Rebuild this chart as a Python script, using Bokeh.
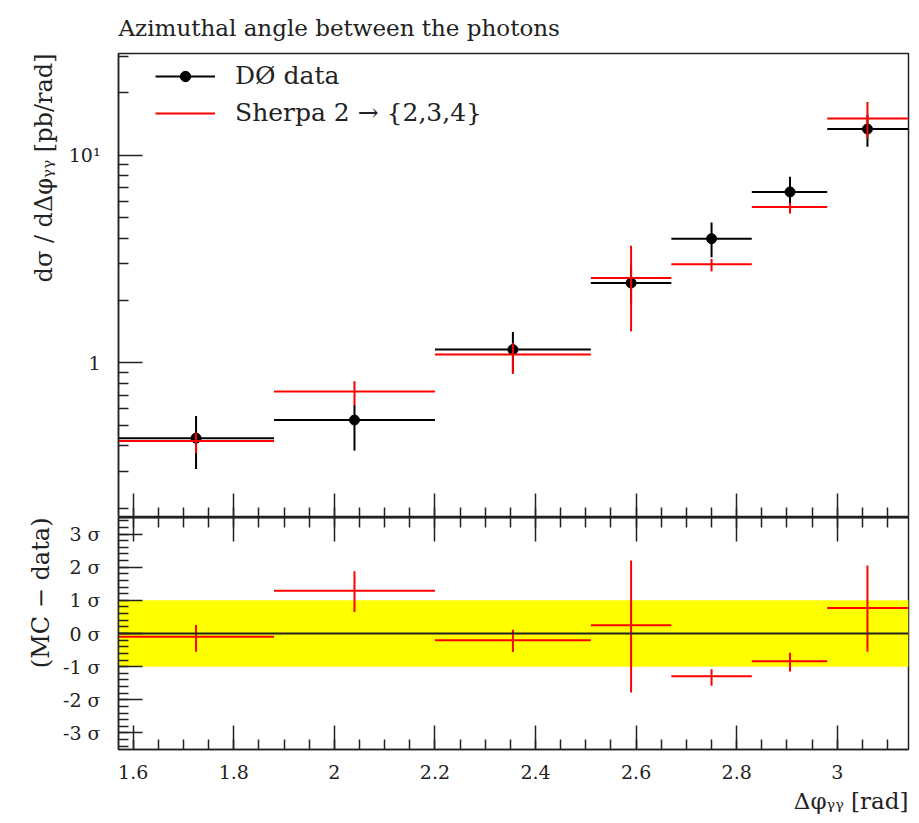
import numpy as np
from bokeh.plotting import figure
from bokeh.models import (FixedTicker, Range1d, BoxAnnotation, Span, Legend,
                          LegendItem, ColumnDataSource, LinearAxis, Title)
from bokeh.layouts import column
from bokeh.embed import file_html
from bokeh.resources import INLINE

# ---------------- data ----------------
bin_edges = [np.pi / 2, 1.88, 2.20, 2.51, 2.67, 2.83, 2.98, np.pi]
bin_centers = [1.725, 2.04, 2.355, 2.59, 2.75, 2.906, 3.06]

data_val = [0.434, 0.531, 1.16, 2.43, 3.97, 6.67, 13.4]
data_low = [0.308, 0.378, 0.889, 1.90, 3.23, 5.69, 11.0]
data_high = [0.555, 0.627, 1.41, 2.95, 4.75, 7.89, 15.7]

mc_val = [0.421, 0.729, 1.10, 2.57, 2.99, 5.65, 15.06]
mc_low = [0.367, 0.627, 0.889, 1.42, 2.76, 5.25, 12.1]
mc_high = [0.461, 0.817, 1.25, 3.67, 3.17, 5.92, 18.1]

dev_val = [-0.10, 1.29, -0.20, 0.25, -1.29, -0.84, 0.77]
dev_low = [-0.55, 0.65, -0.56, -1.78, -1.58, -1.15, -0.55]
dev_high = [0.26, 1.88, 0.11, 2.20, -1.08, -0.58, 2.05]

band = [-1.0, 1.0]

x_major = [1.6, 1.8, 2.0, 2.2, 2.4, 2.6, 2.8, 3.0]
x_minor = [round(1.6 + 0.05 * i, 2) for i in range(-1, 32)]
y_major = [1, 10]
y_minor = [0.2, 0.3, 0.4, 0.5, 0.6, 0.7, 0.8, 0.9, 2, 3, 4, 5, 6, 7, 8, 9, 20, 30]
y_labels = {1: "1", 10: "10\u00b9"}
r_major = [-3, -2, -1, 0, 1, 2, 3]
r_minor = [round(-3.4 + 0.2 * i, 1) for i in range(35)]
r_labels = {-3: "-3 \u03c3", -2: "-2 \u03c3", -1: "-1 \u03c3", 0: "0 \u03c3",
            1: "1 \u03c3", 2: "2 \u03c3", 3: "3 \u03c3"}

title_text = "Azimuthal angle between the photons"
y_title = "d\u03c3 / d\u0394\u03c6\u1d67\u1d67 [pb/rad]"
r_title = "(MC \u2212 data)"
x_title = "\u0394\u03c6\u1d67\u1d67 [rad]"

FONT = "DejaVu Serif"
TXT = "#222222"
LINE = "#222222"

src = ColumnDataSource(dict(
    x0=bin_edges[:-1], x1=bin_edges[1:], xc=bin_centers,
    dv=data_val, dl=data_low, dh=data_high,
    mv=mc_val, ml=mc_low, mh=mc_high,
    rv=dev_val, rl=dev_low, rh=dev_high,
))

x_range = Range1d(np.pi / 2, np.pi)


def style_common(ax):
    ax.major_tick_out = 0
    ax.minor_tick_out = 0
    ax.axis_line_width = 1.5
    ax.major_tick_line_width = 1.5
    ax.minor_tick_line_width = 1.5
    ax.axis_line_color = LINE
    ax.major_tick_line_color = LINE
    ax.minor_tick_line_color = LINE
    ax.major_label_text_font = FONT
    ax.major_label_text_color = TXT
    ax.major_label_text_font_size = "19px"
    ax.major_label_standoff = 18


def style_axis(ax, major_ticks, minor_ticks, overrides=None):
    style_common(ax)
    ax.ticker = FixedTicker(ticks=major_ticks, minor_ticks=minor_ticks)
    ax.major_tick_in = 24
    ax.minor_tick_in = 10
    if overrides:
        ax.major_label_overrides = overrides


def tick_only_axes(fig, place, major_ticks, minor_ticks):
    # unlabeled inner ticks: two label-free axes (long + short ticks)
    for ticks, length in ((major_ticks, 24), (minor_ticks, 10)):
        ax = LinearAxis(ticker=FixedTicker(ticks=[], minor_ticks=ticks))
        style_common(ax)
        ax.major_tick_in = 0
        ax.minor_tick_in = length
        ax.major_label_standoff = 0
        fig.add_layout(ax, place)


def side_title(fig, text, place, align, standoff, size="23px"):
    t = Title(text=text, align=align, text_font=FONT, text_font_size=size,
              text_font_style="normal", text_color=TXT, standoff=standoff)
    fig.add_layout(t, place)
    return t


# ---------------- upper panel ----------------
p1 = figure(width=919, height=517, x_range=x_range, y_range=Range1d(0.18, 31),
            y_axis_type="log", x_axis_location=None,
            output_backend="svg", toolbar_location=None,
            min_border_left=118, min_border_right=11, min_border_top=53,
            min_border_bottom=0)
p1.grid.visible = False
p1.outline_line_color = LINE
p1.outline_line_width = 1.5
p1.title.text = title_text
p1.title.text_font = FONT
p1.title.text_font_size = "23px"
p1.title.text_font_style = "normal"
p1.title.text_color = TXT
p1.title.align = "left"
p1.title.standoff = 25

tick_only_axes(p1, "below", x_major, x_minor)
style_axis(p1.yaxis[0], y_major, y_minor, overrides=y_labels)
side_title(p1, y_title, "left", "right", 16, size="24px")

r_dh = p1.segment(x0="x0", x1="x1", y0="dv", y1="dv", source=src,
                  line_color="black", line_width=2)
p1.segment(x0="xc", x1="xc", y0="dl", y1="dh", source=src,
           line_color="black", line_width=2)
r_dp = p1.scatter(x="xc", y="dv", source=src, size=10, fill_color="black",
                  line_color="black")
r_mh = p1.segment(x0="x0", x1="x1", y0="mv", y1="mv", source=src,
                  line_color="red", line_width=2)
p1.segment(x0="xc", x1="xc", y0="ml", y1="mh", source=src,
           line_color="red", line_width=2)

legend = Legend(items=[
    LegendItem(label="D\u00d8 data", renderers=[r_dh, r_dp]),
    LegendItem(label="Sherpa 2 \u2192 {2,3,4}", renderers=[r_mh]),
])
legend.margin = 0
legend.padding = 0
legend.location = (37, 390)
legend.glyph_width = 60
legend.glyph_height = 26
legend.label_height = 26
legend.spacing = 8
legend.label_standoff = 20
legend.label_text_font = FONT
legend.label_text_font_size = "25px"
legend.label_text_color = TXT
legend.border_line_alpha = 0
legend.background_fill_alpha = 0
p1.add_layout(legend, "center")

# ---------------- lower panel ----------------
p2 = figure(width=919, height=306, x_range=x_range, y_range=Range1d(-3.5, 3.5),
            output_backend="svg", toolbar_location=None,
            min_border_left=118, min_border_right=11, min_border_top=0,
            min_border_bottom=74)
p2.grid.visible = False
p2.outline_line_color = LINE
p2.outline_line_width = 1.5

p2.add_layout(BoxAnnotation(bottom=band[0], top=band[1], fill_color="#ffff00",
                            fill_alpha=1.0, line_alpha=0, level="underlay"))
p2.add_layout(Span(location=0, dimension="width", line_color=LINE,
                   line_width=2))

style_axis(p2.xaxis[0], x_major, x_minor)
p2.xaxis[0].major_label_standoff = 15
side_title(p2, x_title, "below", "right", 8)

tick_only_axes(p2, "above", x_major, x_minor)

style_axis(p2.yaxis[0], r_major, r_minor, overrides=r_labels)
side_title(p2, r_title, "left", "right", 10, size="24px")

p2.segment(x0="x0", x1="x1", y0="rv", y1="rv", source=src,
           line_color="red", line_width=2)
p2.segment(x0="xc", x1="xc", y0="rl", y1="rh", source=src,
           line_color="red", line_width=2)

layout = column(p1, p2, spacing=0)
open("out.html", "w").write(file_html(layout, INLINE))
